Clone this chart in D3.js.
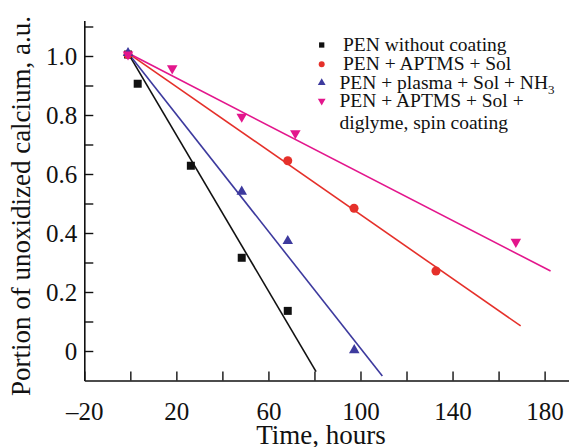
<!DOCTYPE html>
<html>
<head>
<meta charset="utf-8">
<script src="https://cdn.jsdelivr.net/npm/d3@7"></script>
<style>
  html, body { margin: 0; padding: 0; background: #fff; }
  svg { display: block; font-family: "Liberation Serif", "Times New Roman", serif; }
</style>
</head>
<body>
<svg id="chart" width="569" height="447"></svg>
<script>
/* ---------- Data ---------- */
const seriesNames = [
  "PEN without coating",
  "PEN + APTMS + Sol",
  "PEN + plasma + Sol + NH",
  "PEN + APTMS + Sol +"
];
const seriesColors = ["#111111", "#e5302a", "#3d3a9e", "#e3168c"];

// measured points (time, hours / portion)
const blackT = [-1, 3.2, 26.3, 48.4, 68.4];
const blackV = [1.005, 0.906, 0.628, 0.316, 0.136];
const redT   = [-1, 68.4, 97.2, 132.8];
const redV   = [1.005, 0.645, 0.484, 0.271];
const blueT  = [-1, 48.4, 68.4, 97.3];
const blueV  = [1.01, 0.54, 0.373, 0.003];
const pinkT  = [-1, 18.2, 48.4, 71.7, 167.5];
const pinkV  = [1.005, 0.958, 0.794, 0.738, 0.37];

// linear fits: common start, individual end
const fitX0 = -1, fitY0 = 1.01;
const fitX1 = [80.7, 169.6, 109.5, 182.6];
const fitY1 = [-0.07, 0.085, -0.085, 0.271];

const xTicks = [-20, 0, 20, 40, 60, 80, 100, 120, 140, 160, 180];
const xLabels = [-20, 20, 60, 100, 140, 180];
const yTicks = [0, 0.1, 0.2, 0.3, 0.4, 0.5, 0.6, 0.7, 0.8, 0.9, 1.0, 1.1];
const yLabels = [0, 0.2, 0.4, 0.6, 0.8, 1.0];

/* ---------- Scales ---------- */
const svg = d3.select("#chart");
const x = d3.scaleLinear().domain([-20, 190.6]).range([84.3, 569]);
const y = d3.scaleLinear().domain([-0.1, 1.12]).range([380.5, 20.6]);

const fmtX = v => xLabels.includes(v) ? (v < 0 ? "\u2013" + Math.abs(v) : String(v)) : "";
const fmtY = v => {
  const hit = yLabels.find(l => Math.abs(l - v) < 1e-9);
  if (hit === undefined) return "";
  return hit === 0 ? "0" : hit.toFixed(1);
};

/* ---------- Axes ---------- */
const gx = svg.append("g")
  .attr("transform", `translate(0,${y(-0.1)})`)
  .call(d3.axisBottom(x).tickValues(xTicks).tickSize(-9).tickSizeOuter(0).tickPadding(14).tickFormat(fmtX));

const gy = svg.append("g")
  .attr("transform", `translate(${x(-20)},0)`)
  .call(d3.axisLeft(y).tickValues(yTicks).tickSize(-9).tickSizeOuter(0).tickPadding(7).tickFormat(fmtY));

for (const g of [gx, gy]){
  g.selectAll("path.domain").attr("stroke", "#111").attr("stroke-width", 1.6);
  g.selectAll(".tick line").attr("stroke", "#111").attr("stroke-width", 1.4);
  g.selectAll(".tick text").attr("fill", "#111").attr("font-size", 25)
    .attr("font-family", "Liberation Serif, Times New Roman, serif");
}
gx.selectAll(".tick text").attr("dy", "0.71em").attr("y", 22);
gy.selectAll(".tick text").attr("x", -7);

// axis titles
svg.append("text")
  .attr("x", 321).attr("y", 444)
  .attr("text-anchor", "middle")
  .attr("font-size", 27).attr("fill", "#111")
  .text("Time, hours");

svg.append("text")
  .attr("transform", "translate(30,206) rotate(-90)")
  .attr("text-anchor", "middle")
  .attr("font-size", 27).attr("fill", "#111")
  .text("Portion of unoxidized calcium, a.u.");

/* ---------- Fit lines ---------- */
const plot = svg.append("g");
plot.selectAll("line.fit")
  .data(fitX1.map((x1, i) => ({x1, y1: fitY1[i], c: seriesColors[i]})))
  .join("line")
  .attr("class", "fit")
  .attr("x1", x(fitX0)).attr("y1", y(fitY0))
  .attr("x2", d => x(d.x1)).attr("y2", d => y(d.y1))
  .attr("stroke", d => d.c)
  .attr("stroke-width", 1.6);

/* ---------- Markers ---------- */
const symSquare = d3.symbol(d3.symbolSquare, 64)();
const symCircle = d3.symbol(d3.symbolCircle, 64)();
const symTri    = d3.symbol(d3.symbolTriangle, 48)();

const markerSets = [
  {t: blackT, v: blackV, sym: symSquare, rot: 0},
  {t: redT,   v: redV,   sym: symCircle, rot: 0},
  {t: blueT,  v: blueV,  sym: symTri,    rot: 0},
  {t: pinkT,  v: pinkV,  sym: symTri,    rot: 180},
];

markerSets.forEach((s, i) => {
  plot.append("g").selectAll("path")
    .data(s.t.map((t, j) => [t, s.v[j]]))
    .join("path")
    .attr("d", s.sym)
    .attr("transform", d => `translate(${x(d[0])},${y(d[1])}) rotate(${s.rot})`)
    .attr("fill", seriesColors[i]);
});

/* ---------- Legend ---------- */
const legSyms = [
  d3.symbol(d3.symbolSquare, 28)(),
  d3.symbol(d3.symbolCircle, 28)(),
  d3.symbol(d3.symbolTriangle, 26)(),
  d3.symbol(d3.symbolTriangle, 26)(),
];
const legY = [45, 64.3, 82.7, 101];
const legTextX = [343, 343, 339.5, 339.5];
const legend = svg.append("g").attr("font-size", 19.5).attr("fill", "#111");

seriesNames.forEach((name, i) => {
  legend.append("path")
    .attr("d", legSyms[i])
    .attr("transform", `translate(321.7,${legY[i]}) rotate(${i === 3 ? 180 : 0})`)
    .attr("fill", seriesColors[i]);
  const t = legend.append("text")
    .attr("x", legTextX[i]).attr("y", legY[i] + 6)
    .text(name);
  if (i === 2){
    t.append("tspan").attr("font-size", 13).attr("dy", 5).text("3");
  }
});
legend.append("text")
  .attr("x", 339.5).attr("y", 129)
  .text("diglyme, spin coating");
</script>
</body>
</html>
